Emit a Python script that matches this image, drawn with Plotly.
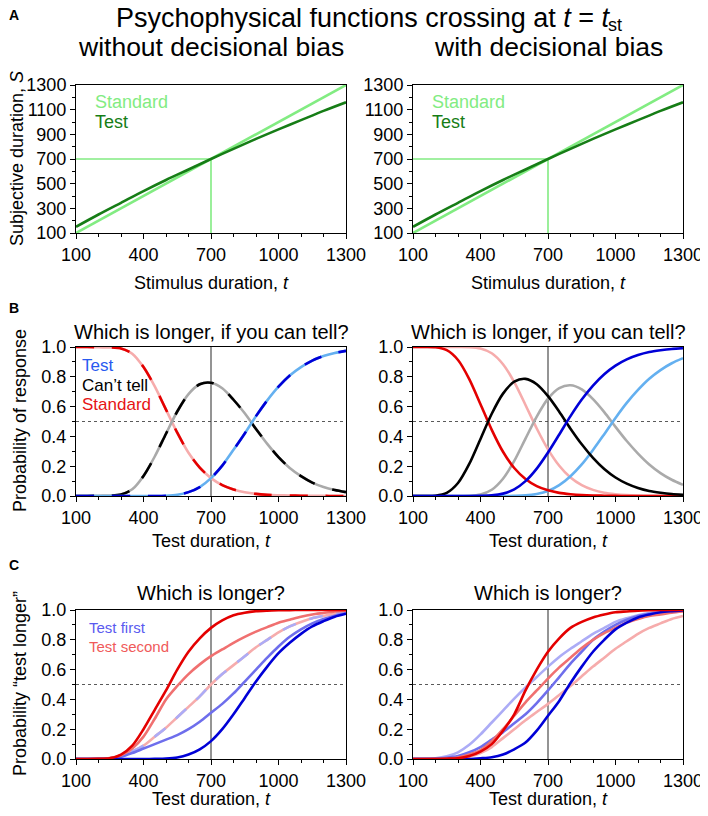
import plotly.graph_objects as go

# The page body adds an 8px margin, so the figure is drawn 8px smaller and
# all reference pixel positions are shifted by that offset.
PAGE_W, PAGE_H = 708, 816
OFF = 8
W, H = PAGE_W - OFF, PAGE_H - OFF
FONT = "Liberation Sans"

# ---------------- data ----------------
t_grid = [100, 150, 200, 250, 300, 350, 400, 450, 500, 550, 600, 650, 700,
          750, 800, 850, 900, 950, 1000, 1050, 1100, 1150, 1200, 1250, 1300]
t_coarse = [100, 200, 300, 400, 500, 600, 700, 800, 900, 1000, 1100, 1200, 1300]
t_st = 700

# Panel A: subjective duration
a_standard_t = [100, 1300]
a_standard_s = [100, 1300]
a_test_s = [150, 250, 345, 440, 530, 615, 700, 782, 863, 940, 1015, 1090, 1160]

# Panel B left (no bias): both orders identical
bl_standard = [1.000, 1.000, 0.998, 0.997, 0.990, 0.955, 0.865, 0.735, 0.580, 0.425, 0.290, 0.190, 0.120,
               0.073, 0.044, 0.025, 0.014, 0.008, 0.005, 0.003, 0.002, 0.001, 0.001, 0.000, 0.000]
bl_test = [0, 0, 0, 0, 0, 0, 0, 0.0003, 0.002, 0.008, 0.026, 0.060, 0.120,
           0.204, 0.310, 0.420, 0.536, 0.642, 0.734, 0.809, 0.865, 0.909, 0.939, 0.960, 0.974]
bl_canttell = [0, 0, 0.002, 0.003, 0.010, 0.045, 0.135, 0.265, 0.418, 0.567, 0.684, 0.750, 0.760,
               0.723, 0.646, 0.555, 0.450, 0.350, 0.261, 0.188, 0.133, 0.090, 0.060, 0.040, 0.026]

# Panel B right (with bias): condition 1 (dark) and condition 2 (light)
br_standard_1 = [1.0, 1.0, 0.998, 0.979, 0.913, 0.785, 0.616, 0.444, 0.297, 0.188, 0.114, 0.066, 0.038,
                 0.021, 0.012, 0.006, 0.003, 0.002, 0.001, 0, 0, 0, 0, 0, 0]
br_test_1 = [0, 0, 0, 0, 0, 0, 0.001, 0.004, 0.016, 0.045, 0.100, 0.184, 0.292,
             0.413, 0.536, 0.647, 0.741, 0.817, 0.875, 0.917, 0.946, 0.966, 0.978, 0.987, 0.992]
br_canttell_1 = [0, 0, 0.002, 0.021, 0.087, 0.215, 0.383, 0.552, 0.687, 0.767, 0.786, 0.750, 0.670,
                 0.566, 0.452, 0.347, 0.256, 0.181, 0.124, 0.083, 0.054, 0.034, 0.022, 0.013, 0.008]
br_standard_2 = [1, 1, 1, 1, 1.0, 0.999, 0.990, 0.958, 0.884, 0.764, 0.611, 0.453, 0.313,
                 0.203, 0.124, 0.073, 0.041, 0.022, 0.012, 0.006, 0.003, 0.0015, 0.001, 0, 0]
br_test_2 = [0, 0, 0, 0, 0, 0, 0, 0, 0, 0.001, 0.004, 0.014, 0.034,
             0.073, 0.133, 0.212, 0.309, 0.415, 0.524, 0.625, 0.712, 0.787, 0.845, 0.891, 0.925]
br_canttell_2 = [0, 0, 0, 0, 0, 0.001, 0.010, 0.042, 0.116, 0.235, 0.385, 0.533, 0.653,
                 0.724, 0.743, 0.715, 0.650, 0.563, 0.464, 0.369, 0.285, 0.212, 0.154, 0.109, 0.075]

# Panel C left (no bias)
cl_second_dark = [0, 0, 0.001, 0.005, 0.03, 0.09, 0.20, 0.33, 0.46, 0.60, 0.72, 0.81, 0.88,
                  0.93, 0.965, 0.982, 0.992, 0.996, 0.998, 0.999, 1, 1, 1, 1, 1]
cl_second_mid = [0, 0, 0.001, 0.006, 0.025, 0.07, 0.15, 0.27, 0.40, 0.49, 0.57, 0.635, 0.69,
                 0.735, 0.78, 0.82, 0.855, 0.885, 0.915, 0.935, 0.955, 0.97, 0.98, 0.99, 0.995]
cl_unbiased = [0, 0, 0.001, 0.005, 0.02, 0.05, 0.09, 0.15, 0.21, 0.28, 0.35, 0.42, 0.50,
               0.57, 0.63, 0.69, 0.75, 0.80, 0.85, 0.89, 0.92, 0.945, 0.96, 0.975, 0.985]
cl_first_mid = [0, 0, 0.001, 0.004, 0.015, 0.04, 0.07, 0.10, 0.13, 0.16, 0.20, 0.25, 0.31,
                0.37, 0.44, 0.52, 0.60, 0.68, 0.755, 0.82, 0.87, 0.91, 0.94, 0.962, 0.978]
cl_first_dark = [0, 0, 0, 0, 0, 0, 0, 0.001, 0.003, 0.01, 0.03, 0.065, 0.12,
                 0.20, 0.30, 0.41, 0.52, 0.62, 0.71, 0.78, 0.84, 0.89, 0.925, 0.955, 0.975]

# Panel C right (with bias)
cr_second_dark = [0, 0, 0, 0.002, 0.005, 0.02, 0.05, 0.10, 0.19, 0.30, 0.46, 0.60, 0.72,
                  0.81, 0.88, 0.92, 0.95, 0.97, 0.985, 0.99, 0.995, 0.998, 1, 1, 1]
cr_second_mid = [0, 0, 0.001, 0.004, 0.01, 0.03, 0.06, 0.12, 0.20, 0.29, 0.38, 0.46, 0.54,
                 0.615, 0.68, 0.745, 0.80, 0.845, 0.88, 0.915, 0.94, 0.96, 0.97, 0.982, 0.99]
cr_second_light = [0, 0, 0, 0.002, 0.005, 0.015, 0.04, 0.08, 0.14, 0.20, 0.26, 0.315, 0.37,
                   0.43, 0.49, 0.555, 0.62, 0.68, 0.74, 0.79, 0.84, 0.88, 0.91, 0.94, 0.96]
cr_first_light = [0, 0.001, 0.005, 0.018, 0.045, 0.095, 0.165, 0.245, 0.325, 0.405, 0.48, 0.55, 0.62,
                  0.685, 0.74, 0.79, 0.84, 0.88, 0.92, 0.945, 0.965, 0.98, 0.99, 0.995, 1.0]
cr_first_mid = [0, 0, 0.002, 0.008, 0.02, 0.045, 0.08, 0.13, 0.18, 0.24, 0.30, 0.375, 0.46,
                0.55, 0.64, 0.72, 0.80, 0.855, 0.90, 0.935, 0.96, 0.975, 0.985, 0.99, 0.995]
cr_first_dark = [0, 0, 0, 0, 0, 0, 0.005, 0.012, 0.03, 0.065, 0.11, 0.19, 0.29,
                 0.39, 0.51, 0.62, 0.72, 0.80, 0.87, 0.915, 0.95, 0.97, 0.985, 0.992, 0.997]

x_ticks = [100, 400, 700, 1000, 1300]
s_ticks = [100, 300, 500, 700, 900, 1100, 1300]
p_ticks = [0.0, 0.2, 0.4, 0.6, 0.8, 1.0]

# ---------------- colours ----------------
GREEN_L = "rgb(130,236,130)"
GREEN_D = "rgb(22,125,22)"
RED = "rgb(228,0,0)"
PINK = "rgb(246,172,172)"
RED_M = "rgb(240,112,112)"
BLUE = "rgb(0,0,215)"
SKY = "rgb(100,176,240)"
LAV = "rgb(172,172,246)"
BLUE_M = "rgb(110,110,236)"
GRAY = "rgb(170,170,170)"

# ---------------- layout helpers (page pixels -> paper) ----------------
def px(x):
    return (x - OFF) / W

def py(y):
    return 1 - (y - OFF) / H

XL = (76, 346)
XR = (413, 683)
YA = (85, 233)
YB = (347, 496)
YC = (610, 759)

fig = go.Figure()

axes = {
    1: (XL, YA, "s"), 2: (XR, YA, "s"),
    3: (XL, YB, "p"), 4: (XR, YB, "p"),
    5: (XL, YC, "p"), 6: (XR, YC, "p"),
}

common = dict(ticks="outside", ticklen=5, tickwidth=1, tickcolor="black",
              showline=True, linecolor="black", linewidth=1, mirror=True,
              showgrid=False, zeroline=False, automargin=False,
              tickfont=dict(size=18, color="black", family=FONT))

layout_axes = {}
for i, (xd, yd, kind) in axes.items():
    xs = "" if i == 1 else str(i)
    xa = dict(domain=[px(xd[0]), px(xd[1])], anchor="y" + xs, range=[100, 1300],
              tickvals=x_ticks,
              minor=dict(dtick=100, tick0=100, ticks="outside", ticklen=3,
                         tickcolor="black", showgrid=False),
              **common)
    if kind == "s":
        ya = dict(domain=[py(yd[1]), py(yd[0])], anchor="x" + xs, range=[100, 1300],
                  tickvals=s_ticks,
                  minor=dict(dtick=100, tick0=100, ticks="outside", ticklen=3,
                             tickcolor="black", showgrid=False),
                  **common)
    else:
        ya = dict(domain=[py(yd[1]), py(yd[0])], anchor="x" + xs, range=[0, 1],
                  tickvals=p_ticks, tickformat=".1f",
                  minor=dict(dtick=0.1, tick0=0, ticks="outside", ticklen=3,
                             tickcolor="black", showgrid=False),
                  **common)
    layout_axes["xaxis" + xs] = xa
    layout_axes["yaxis" + xs] = ya


def add(i, x, y, color, width=2.6, dash=None, shape="spline"):
    xs = "" if i == 1 else str(i)
    fig.add_trace(go.Scatter(
        x=x, y=y, mode="lines", xaxis="x" + xs, yaxis="y" + xs,
        line=dict(color=color, width=width, dash=dash, shape=shape, smoothing=0.8),
        hoverinfo="skip", showlegend=False))


# ---- Panel A ----
for i in (1, 2):
    add(i, [100, t_st, t_st], [t_st, t_st, 100], GREEN_L, width=1.6, shape="linear")
    add(i, a_standard_t, a_standard_s, GREEN_L, width=2.6, shape="linear")
    add(i, t_coarse, a_test_s, GREEN_D, width=2.6)

# ---- reference lines for B and C ----
for i in (3, 4, 5, 6):
    add(i, [100, 1300], [0.5, 0.5], "rgb(90,90,90)", width=1.1, dash="3px,3px", shape="linear")
    add(i, [t_st, t_st], [0, 1], "rgb(60,60,60)", width=1.1, shape="linear")

# ---- Panel B left: overlapping curves shown as two-colour dashes ----
DASH = "18px,18px"
add(3, t_grid, bl_standard, PINK)
add(3, t_grid, bl_standard, RED, dash=DASH)
add(3, t_grid, bl_canttell, GRAY)
add(3, t_grid, bl_canttell, "black", dash=DASH)
add(3, t_grid, bl_test, SKY)
add(3, t_grid, bl_test, BLUE, dash=DASH)

# ---- Panel B right ----
add(4, t_grid, br_standard_2, PINK)
add(4, t_grid, br_canttell_2, GRAY)
add(4, t_grid, br_test_2, SKY)
add(4, t_grid, br_standard_1, RED)
add(4, t_grid, br_canttell_1, "black")
add(4, t_grid, br_test_1, BLUE)

# ---- Panel C left ----
add(5, t_grid, cl_unbiased, PINK)
add(5, t_grid, cl_unbiased, LAV, dash="14px,14px")
add(5, t_grid, cl_first_mid, BLUE_M)
add(5, t_grid, cl_second_mid, RED_M)
add(5, t_grid, cl_first_dark, BLUE)
add(5, t_grid, cl_second_dark, RED)

# ---- Panel C right ----
add(6, t_grid, cr_first_light, LAV)
add(6, t_grid, cr_second_light, PINK)
add(6, t_grid, cr_first_mid, BLUE_M)
add(6, t_grid, cr_second_mid, RED_M)
add(6, t_grid, cr_first_dark, BLUE)
add(6, t_grid, cr_second_dark, RED)

# ---------------- annotations ----------------
ann = []

def text(x, y, s, size=18, color="black", xanchor="center", angle=0):
    ann.append(dict(x=px(x), y=py(y), xref="paper", yref="paper", text=s,
                    showarrow=False, xanchor=xanchor, yanchor="middle",
                    textangle=angle, borderpad=0, borderwidth=0,
                    font=dict(size=size, color=color, family=FONT)))

text(14, 15, "<b>A</b>", size=14)
text(14, 308, "<b>B</b>", size=14)
text(14, 565, "<b>C</b>", size=14)

# main title, with the "st" subscript as its own smaller text
text(611, 18, "Psychophysical functions crossing at <i>t</i> = <i>t</i>", size=27, xanchor="right")
text(608, 25, "st", size=18, xanchor="left")
text(211, 47, "without decisional bias", size=26.5)
text(548, 47, "with decisional bias", size=26.5)

text(211, 332, "Which is longer, if you can tell?", size=20)
text(548, 332, "Which is longer, if you can tell?", size=20)
text(211, 593, "Which is longer?", size=20)
text(548, 593, "Which is longer?", size=20)

for cx in (211, 548):
    text(cx, 283, "Stimulus duration, <i>t</i>", size=18)
    text(cx, 541, "Test duration, <i>t</i>", size=18)
    text(cx, 799, "Test duration, <i>t</i>", size=18)

text(17, 159, "Subjective duration, <i>S</i>", size=18, angle=-90)
text(20, 421, "Probability of response", size=18, angle=-90)
text(20, 684, "Probability “test longer”", size=18, angle=-90)

for lx in (95, 432):
    text(lx, 102, "Standard", size=18, color=GREEN_L, xanchor="left")
    text(lx, 122, "Test", size=18, color=GREEN_D, xanchor="left")

text(82, 365, "Test", size=17, color="rgb(40,90,240)", xanchor="left")
text(82, 385, "Can’t tell", size=17, color="black", xanchor="left")
text(82, 404, "Standard", size=17, color="rgb(230,20,20)", xanchor="left")

text(89, 627, "Test first", size=15, color="rgb(90,90,240)", xanchor="left")
text(89, 646, "Test second", size=15, color="rgb(240,90,90)", xanchor="left")

fig.update_layout(
    width=W, height=H, margin=dict(l=0, r=0, t=0, b=0, pad=0, autoexpand=False),
    paper_bgcolor="white", plot_bgcolor="white",
    font=dict(family=FONT, color="black"),
    showlegend=False, annotations=ann, **layout_axes)

fig.write_html("out.html")
